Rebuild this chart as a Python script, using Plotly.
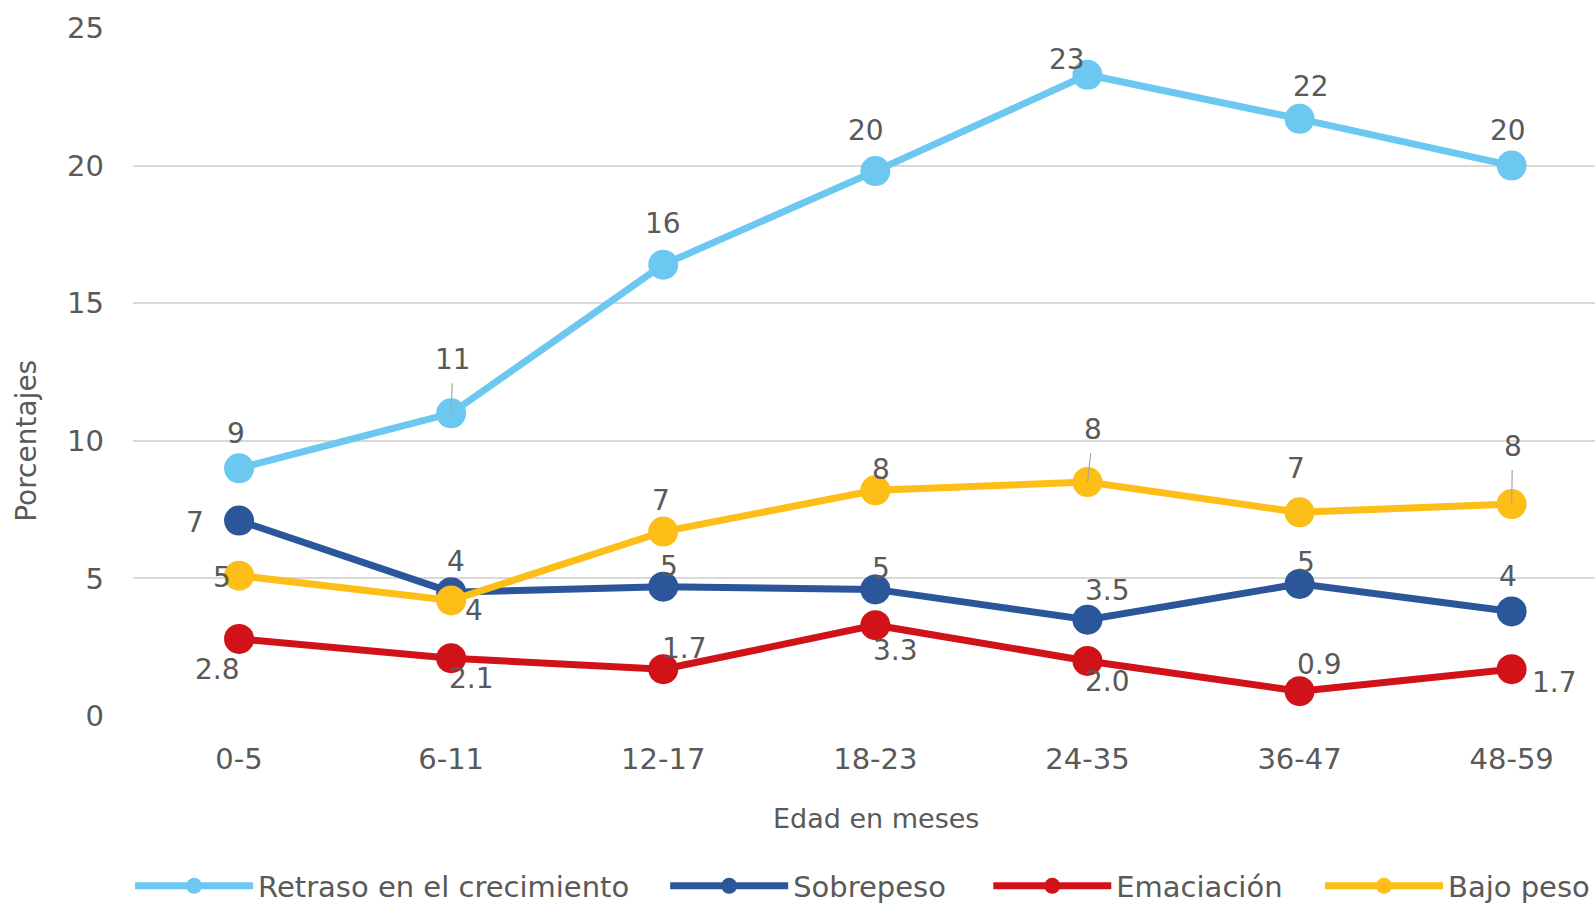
import plotly.graph_objects as go

categories = ["0-5", "6-11", "12-17", "18-23", "24-35", "36-47", "48-59"]

retraso = [9.0, 11.0, 16.4, 19.8, 23.3, 21.7, 20.0]
sobrepeso = [7.1, 4.5, 4.7, 4.6, 3.5, 4.8, 3.8]
emaciacion = [2.8, 2.1, 1.7, 3.3, 2.0, 0.9, 1.7]
bajo_peso = [5.1, 4.2, 6.7, 8.2, 8.5, 7.4, 7.7]

retraso_labels = ["9", "11", "16", "20", "23", "22", "20"]
sobrepeso_labels = ["7", "4", "5", "5", "3.5", "5", "4"]
emaciacion_labels = ["2.8", "2.1", "1.7", "3.3", "2.0", "0.9", "1.7"]
bajo_peso_labels = ["5", "4", "7", "8", "8", "7", "8"]

y_ticks = [0, 5, 10, 15, 20, 25]

# label offsets in pixels (dx, dy) and whether a leader line is drawn
retraso_off = [(-3, -35, 0), (2, -54, 1), (0, -41, 0), (-9, -41, 0), (-20, -15, 0), (11, -32, 0), (-4, -35, 0)]
sobrepeso_off = [(-44, 2, 0), (5, -31, 0), (6, -20, 0), (6, -21, 0), (20, -29, 0), (6, -21, 0), (-4, -35, 0)]
emaciacion_off = [(-22, 31, 0), (20, 20, 0), (21, -21, 0), (20, 25, 0), (20, 21, 0), (20, -27, 0), (43, 13, 0)]
bajo_peso_off = [(-17, 2, 0), (23, 10, 0), (-2, -31, 0), (6, -21, 0), (6, -53, 1), (-4, -44, 0), (1, -58, 1)]

series = [
    ("Retraso en el crecimiento", retraso, retraso_labels, retraso_off, "#6DC8F1", "legend", -0.002, "left"),
    ("Sobrepeso", sobrepeso, sobrepeso_labels, sobrepeso_off, "#2B579A", "legend2", 0.364, "left"),
    ("Emaciación", emaciacion, emaciacion_labels, emaciacion_off, "#D11218", "legend3", 0.585, "left"),
    ("Bajo peso", bajo_peso, bajo_peso_labels, bajo_peso_off, "#FDBE17", "legend4", 1.0, "right"),
]

TEXT = "#595959"
FONT = "DejaVu Sans, Verdana, sans-serif"

fig = go.Figure()
annotations = []
legends = {}
LEG_Y = (903 - 886) / 903.0
for name, vals, labels, offs, color, leg, lx, lanchor in series:
    fig.add_trace(go.Scatter(
        x=categories, y=vals, name=name, mode="lines+markers",
        line=dict(color=color, width=7),
        marker=dict(color=color, size=30),
        legend=leg,
    ))
    legends[leg] = dict(
        orientation="h", x=lx, xanchor=lanchor, xref="paper",
        y=LEG_Y, yanchor="middle", yref="container",
        font=dict(family=FONT, size=29, color=TEXT), itemwidth=118,
        bgcolor="rgba(0,0,0,0)",
    )
    for c, v, lab, (dx, dy, lead) in zip(categories, vals, labels, offs):
        annotations.append(dict(
            x=c, y=v, xref="x", yref="y", text=lab,
            showarrow=True, ax=dx, ay=dy, arrowhead=0, arrowwidth=1.2,
            arrowcolor="#A6A6A6" if lead else "rgba(0,0,0,0)",
            startstandoff=6, standoff=0,
            font=dict(family=FONT, size=28, color=TEXT),
        ))

annotations.append(dict(
    x=-0.0725, y=0.40, xref="paper", yref="paper", text="Porcentajes",
    textangle=-90, showarrow=False, xanchor="center", yanchor="middle",
    font=dict(family=FONT, size=28, color=TEXT),
))
annotations.append(dict(
    x=0.508, y=-0.149, xref="paper", yref="paper", text="Edad en meses",
    showarrow=False, xanchor="center", yanchor="middle",
    font=dict(family=FONT, size=27, color=TEXT),
))

fig.update_layout(
    width=1595, height=903,
    margin=dict(l=133, r=0, t=28, b=187),
    paper_bgcolor="white", plot_bgcolor="white",
    showlegend=True,
    annotations=annotations,
    xaxis=dict(
        type="category", categoryorder="array", categoryarray=categories,
        range=[-0.5, 6.393], showgrid=False, zeroline=False, showline=False,
        tickfont=dict(family=FONT, size=29, color=TEXT),
        ticklabelstandoff=23, fixedrange=True,
    ),
    yaxis=dict(
        range=[0, 25], tickvals=y_ticks, showgrid=True, gridcolor="#D9D9D9", gridwidth=1.5,
        zeroline=False, showline=False,
        tickfont=dict(family=FONT, size=29, color=TEXT),
        ticklabelstandoff=28, fixedrange=True,
    ),
    **legends,
)

fig.write_html("out.html", config={"displayModeBar": False},
               post_script="document.body.style.margin='0px';")
